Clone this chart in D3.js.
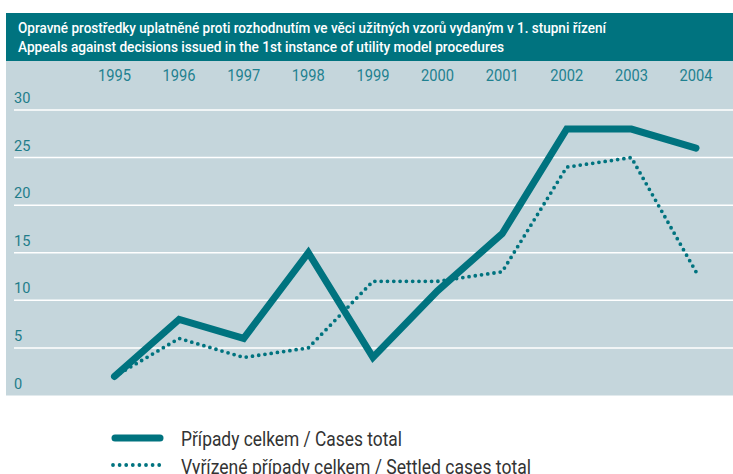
<!DOCTYPE html>
<html><head><meta charset="utf-8">
<script src="https://cdn.jsdelivr.net/npm/d3@7"></script>
<style>
html,body{margin:0;padding:0;background:#fff;}
svg{display:block;}
text{font-family:Roboto,"DejaVu Sans Condensed",sans-serif;}
</style></head>
<body>
<script>
const titleLines = ["Opravné prostředky uplatněné proti rozhodnutím ve věci užitných vzorů vydaným v 1. stupni řízení",
                    "Appeals against decisions issued in the 1st instance of utility model procedures"];
const years = [1995,1996,1997,1998,1999,2000,2001,2002,2003,2004];
const casesTotal = [2,8,6,15,4,11,17,28,28,26];
const settledTotal = [2,6,4,5,12,12,13,24,25,13];
const yTicks = [0,5,10,15,20,25,30];
const legendLabels = ["Případy celkem / Cases total","Vyřízené případy celkem / Settled cases total"];

const W=733,H=474, teal="#00737f", bg="#c5d6dc";
const svg=d3.select("body").append("svg").attr("width",W).attr("height",H);

svg.append("rect").attr("x",6).attr("y",13).attr("width",W-6).attr("height",48).attr("fill",teal);
svg.append("rect").attr("x",6).attr("y",61).attr("width",W-6).attr("height",334.5).attr("fill",bg);

const titleW=[588,486];
svg.selectAll("text.title").data(titleLines).join("text")
  .attr("x",18).attr("y",(d,i)=>33+i*18.5).attr("fill","#fff")
  .attr("font-size",15.5).attr("font-weight",500)
  .attr("textLength",(d,i)=>titleW[i]).attr("lengthAdjust","spacingAndGlyphs").text(d=>d);

const x=d3.scaleLinear().domain([1995,2004]).range([114.5,696]);
const y=d3.scaleLinear().domain([0,30]).range([395.5,110]);

svg.selectAll("line.grid").data(yTicks.filter(d=>d>0)).join("line")
  .attr("x1",14).attr("x2",W).attr("y1",d=>y(d)).attr("y2",d=>y(d))
  .attr("stroke","#fff").attr("stroke-width",1.5);

svg.selectAll("text.yl").data(yTicks).join("text")
  .attr("x",14).attr("y",d=>y(d)-7).attr("fill","#1f7d8a").attr("font-size",15)
  .attr("textLength",d=>String(d).length*8.2).attr("lengthAdjust","spacingAndGlyphs").text(d=>d);

svg.selectAll("text.xl").data(years).join("text")
  .attr("x",d=>x(d)-16.5).attr("y",81).attr("fill","#1f8190").attr("font-size",16.5)
  .attr("textLength",33).attr("lengthAdjust","spacingAndGlyphs").text(d=>d);

const line=d3.line().x((d,i)=>x(years[i])).y(d=>y(d));
svg.append("path").attr("d",line(settledTotal)).attr("fill","none").attr("stroke",teal)
  .attr("stroke-width",3.8).attr("stroke-linecap","round").attr("stroke-dasharray","0 6.3");
svg.append("path").attr("d",line(casesTotal)).attr("fill","none").attr("stroke",teal)
  .attr("stroke-width",7).attr("stroke-linejoin","miter").attr("stroke-linecap","round");

// legend
svg.append("line").attr("x1",115).attr("x2",160).attr("y1",438).attr("y2",438)
  .attr("stroke",teal).attr("stroke-width",7).attr("stroke-linecap","round");
svg.append("line").attr("x1",113).attr("x2",160).attr("y1",465).attr("y2",465)
  .attr("stroke",teal).attr("stroke-width",3.8).attr("stroke-linecap","round").attr("stroke-dasharray","0 6.6");
const legW=[221,350];
svg.selectAll("text.lg").data(legendLabels).join("text")
  .attr("x",181).attr("y",(d,i)=>446+i*27.5).attr("fill","#333").attr("font-size",19.5)
  .attr("textLength",(d,i)=>legW[i]).attr("lengthAdjust","spacingAndGlyphs").text(d=>d);
</script>
</body></html>
